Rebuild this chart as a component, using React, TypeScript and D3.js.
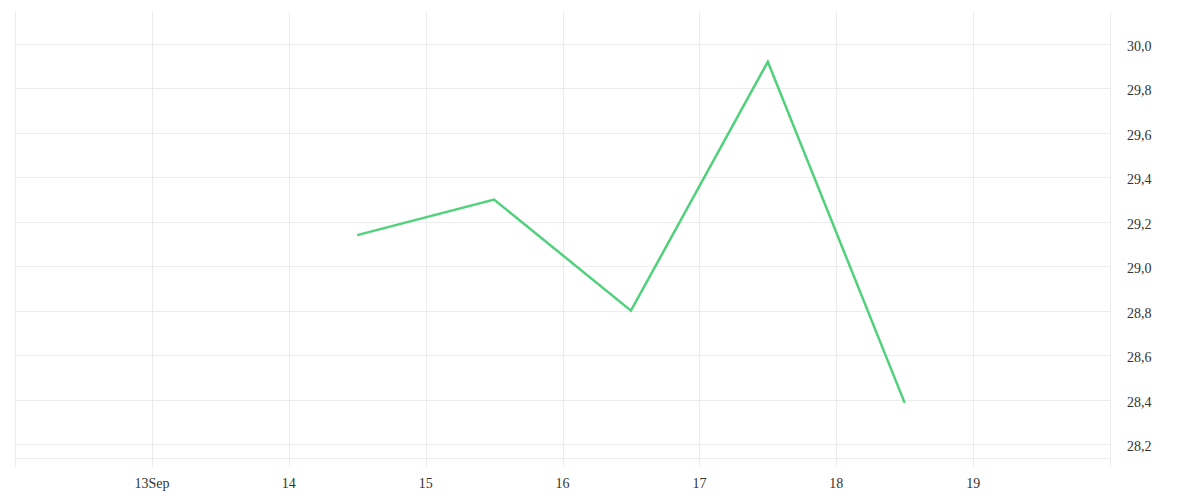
import { formatLocale, line, scaleLinear, scaleUtc, timeDay, utcDay } from 'd3'

const dates = ['2023-09-14T12:00Z', '2023-09-15T12:00Z', '2023-09-16T12:00Z', '2023-09-17T12:00Z', '2023-09-18T12:00Z']
const values = [29.14, 29.3, 28.8, 29.92, 28.385]
const xTickDays = ['2023-09-13', '2023-09-14', '2023-09-15', '2023-09-16', '2023-09-17', '2023-09-18', '2023-09-19']
const xTickLabels = ['13Sep', '14', '15', '16', '17', '18', '19']

const width = 1200
const height = 500
const margin = { top: 12, right: 90, bottom: 42, left: 15 }

const fmt = formatLocale({ decimal: ',', thousands: '.', grouping: [3], currency: ['', ''] }).format('.1f')

export default function App() {
    const x = scaleUtc()
        .domain([new Date('2023-09-12T00:00Z'), new Date('2023-09-20T00:00Z')])
        .range([margin.left, width - margin.right])

    const y = scaleLinear()
        .domain([28.137, 30.144])
        .range([height - margin.bottom, margin.top])

    const points = dates.map((d, i) => ({ date: new Date(d), value: values[i] }))
    const path = line<any>()
        .x(d => x(d.date))
        .y(d => y(d.value))(points)

    const gridDays = utcDay.range(x.domain()[0], utcDay.offset(x.domain()[1], 1))
    const yTicks = y.ticks(10)
    const gridBottom = height - margin.bottom + 9

    return (
        <svg width={width} height={height} style={{ position: 'absolute', left: 0, top: 0, fontFamily: '"Liberation Serif", serif' }}>
            <rect width={width} height={height} fill='#fff' />
            <g stroke='#ececec' strokeWidth={1}>
                {gridDays.map(d => (
                    <line key={d.toISOString()} x1={Math.round(x(d)) + 0.5} x2={Math.round(x(d)) + 0.5} y1={margin.top} y2={gridBottom} />
                ))}
                {yTicks.map(t => (
                    <line key={t} x1={margin.left} x2={width - margin.right} y1={Math.round(y(t)) + 0.5} y2={Math.round(y(t)) + 0.5} />
                ))}
                <line x1={margin.left} x2={width - margin.right} y1={height - margin.bottom + 0.5} y2={height - margin.bottom + 0.5} />
            </g>
            <path d={path ?? ''} fill='none' stroke='#52d17c' strokeWidth={2.5} strokeLinejoin='miter' />
            <g fontSize={14} fill='#333'>
                {xTickDays.map((d, i) => (
                    <text key={d} x={x(new Date(d + 'T00:00Z'))} y={488} textAnchor='middle'>{xTickLabels[i]}</text>
                ))}
                {yTicks.map(t => (
                    <text key={t} x={width - margin.right + 17} y={y(t) + 7}>{fmt(t)}</text>
                ))}
            </g>
        </svg>
    )
}
